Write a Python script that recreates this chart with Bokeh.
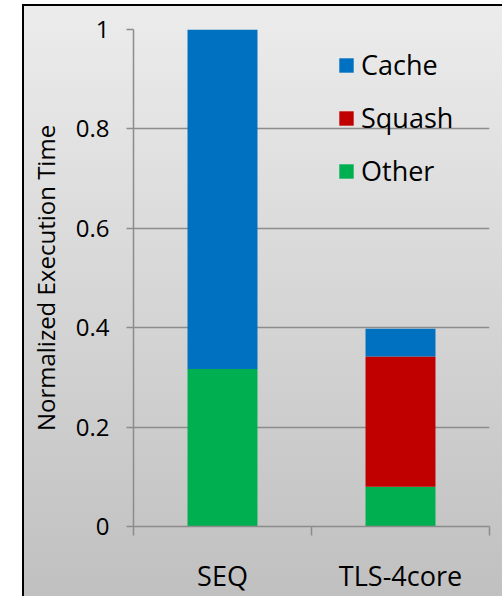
from bokeh.plotting import figure
from bokeh.models import Range1d, FixedTicker, Legend, LegendItem
from bokeh.embed import file_html
from bokeh.resources import INLINE

# ---- data ----
categories = ["SEQ", "TLS-4core"]
other = [0.317, 0.080]
squash = [0.0, 0.262]
cache = [0.683, 0.056]
y_ticks = [0, 0.2, 0.4, 0.6, 0.8, 1.0]
y_tick_labels = ["0", "0.2", "0.4", "0.6", "0.8", "1"]
series_names = ["Other", "Squash", "Cache"]
colors = ["#00B050", "#C00000", "#0070C0"]

FONT = "Open Sans"
GRID = "#8c8c8c"

x_centers = [i + 0.5 for i in range(len(categories))]
x_bounds = [float(i) for i in range(len(categories) + 1)]

source = dict(x=x_centers, Other=other, Squash=squash, Cache=cache)

p = figure(width=502, height=596, output_backend="svg", toolbar_location=None,
           x_range=Range1d(0, len(categories)), y_range=Range1d(0, 1),
           min_border_left=133, min_border_right=13, min_border_top=29, min_border_bottom=67)

p.background_fill_alpha = 0
p.border_fill_alpha = 0
p.outline_line_color = None
p.styles = {
    "background": ("linear-gradient(#000,#000) 22px 4px / 2px 592px no-repeat, "
                   "linear-gradient(#000,#000) 22px 4px / 480px 2px no-repeat, "
                   "linear-gradient(#ececec,#c0c0c0) 22px 4px / 480px 592px no-repeat, white"),
}

renderers = p.vbar_stack(series_names, x="x", width=0.393, color=colors,
                         line_color=None, source=source)

# grid
p.xgrid.visible = False
p.ygrid.ticker = FixedTicker(ticks=y_ticks)
p.ygrid.grid_line_color = GRID
p.ygrid.grid_line_width = 1.5

# y axis
ya = p.yaxis[0]
ya.ticker = FixedTicker(ticks=y_ticks)
ya.major_label_overrides = {t: l for t, l in zip(y_ticks, y_tick_labels)}
ya.axis_line_color = GRID
ya.axis_line_width = 1.5
ya.major_tick_line_color = GRID
ya.major_tick_line_width = 1.5
ya.major_tick_out = 7
ya.major_tick_in = 0
ya.minor_tick_line_color = None
ya.major_label_text_font = FONT
ya.major_label_text_font_size = "24px"
ya.major_label_text_color = "black"
ya.major_label_standoff = 17
ya.axis_label = "Normalized Execution Time"
ya.axis_label_text_font = FONT
ya.axis_label_text_font_size = "24px"
ya.axis_label_text_font_style = "normal"
ya.axis_label_text_color = "black"
ya.axis_label_standoff = 11

# x axis
xa = p.xaxis[0]
xa.ticker = FixedTicker(ticks=x_centers, minor_ticks=x_bounds)
xa.major_label_overrides = {c: l for c, l in zip(x_centers, categories)}
xa.axis_line_color = GRID
xa.axis_line_width = 1.5
xa.major_tick_line_color = None
xa.major_tick_out = 9
xa.major_tick_in = 0
xa.minor_tick_line_color = GRID
xa.minor_tick_line_width = 1.5
xa.minor_tick_out = 9
xa.minor_tick_in = 0
xa.major_label_text_font = FONT
xa.major_label_text_font_size = "27px"
xa.major_label_text_color = "black"
xa.major_label_standoff = 21

# legend (Cache, Squash, Other order)
items = [LegendItem(label=name, renderers=[r]) for name, r in zip(series_names, renderers)][::-1]
legend = Legend(items=items, location=(204, 337), orientation="vertical",
                glyph_width=18, glyph_height=18, label_height=37, spacing=16,
                label_standoff=6, padding=0, margin=0,
                label_text_font=FONT, label_text_font_size="27px", label_text_color="black",
                background_fill_alpha=0, border_line_color=None)
p.add_layout(legend)

html = file_html(p, INLINE)
html = html.replace("</head>", "<style>html,body{margin:0;padding:0;overflow:hidden;}</style></head>", 1)
open("out.html", "w").write(html)
